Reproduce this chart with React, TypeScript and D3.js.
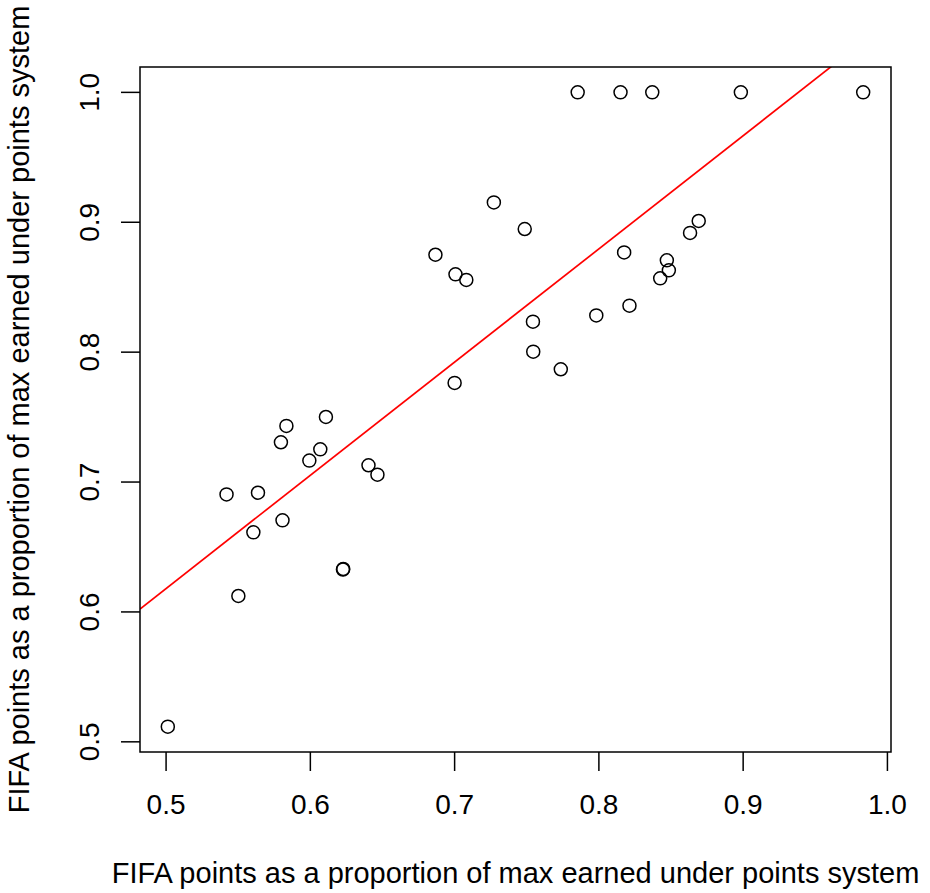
import React from "react";
import * as d3 from "d3";

const xValues = [
  0.5012, 0.5501, 0.5419, 0.5605, 0.5637, 0.5796, 0.5834, 0.5807, 0.5993, 0.6069,
  0.6108, 0.6226, 0.6228, 0.6403, 0.6465, 0.6867, 0.7006, 0.7081, 0.7272, 0.7486,
  0.7543, 0.7545, 0.7000, 0.7736, 0.7982, 0.8175, 0.8212, 0.8425, 0.8471, 0.8485,
  0.8632, 0.8692, 0.7853, 0.8150, 0.8370, 0.8984, 0.9832,
];
const yValues = [
  0.5117, 0.6123, 0.6905, 0.6613, 0.6918, 0.7306, 0.7432, 0.6705, 0.7165, 0.7252,
  0.7501, 0.6326, 0.6331, 0.7129, 0.7057, 0.8750, 0.8599, 0.8556, 0.9153, 0.8948,
  0.8235, 0.8004, 0.7763, 0.7868, 0.8283, 0.8768, 0.8358, 0.8568, 0.8707, 0.8630,
  0.8918, 0.9010, 1.0, 1.0, 1.0, 1.0, 1.0,
];
const fitCoefficients = [0.1823, 0.8715]; // intercept, slope
const xTicks = [0.5, 0.6, 0.7, 0.8, 0.9, 1.0];
const yTicks = [0.5, 0.6, 0.7, 0.8, 0.9, 1.0];
const axisTitle = "FIFA points as a proportion of max earned under points system";

const W = 930;
const H = 893;
const left = 140, right = 891, top = 67, bottom = 752;
const FONT = "'Liberation Sans', Arial, Helvetica, sans-serif";

export default function App() {
  const xMin = d3.min(xValues)!, xMax = d3.max(xValues)!;
  const yMin = d3.min(yValues)!, yMax = d3.max(yValues)!;
  const xPad = (xMax - xMin) * 0.04;
  const yPad = (yMax - yMin) * 0.04;
  const x = d3.scaleLinear().domain([xMin - xPad, xMax + xPad]).range([left, right]);
  const y = d3.scaleLinear().domain([yMin - yPad, yMax + yPad]).range([bottom, top]);
  const [b0, b1] = fitCoefficients;
  const [dx0, dx1] = x.domain();
  const fitLine = d3.line<number>().x((v) => x(v)).y((v) => y(b0 + b1 * v));

  return (
    <svg width={W} height={H} style={{ position: "absolute", left: 0, top: 0, background: "#fff" }} fontFamily={FONT}>
      <rect x={0} y={0} width={W} height={H} fill="#fff" />
      <defs>
        <clipPath id="plotClip">
          <rect x={left} y={top} width={right - left} height={bottom - top} />
        </clipPath>
      </defs>
      {xValues.map((xv, i) => (
        <circle key={i} cx={x(xv)} cy={y(yValues[i])} r={6.5} fill="none" stroke="#000" strokeWidth={1.5} />
      ))}
      <path d={fitLine([dx0, dx1]) || ""} stroke="#ff0000" strokeWidth={1.7} fill="none" clipPath="url(#plotClip)" />
      <rect x={left} y={top} width={right - left} height={bottom - top} fill="none" stroke="#000" strokeWidth={1.5} />
      {xTicks.map((t) => (
        <g key={"x" + t}>
          <line x1={x(t)} x2={x(t)} y1={bottom} y2={bottom + 19} stroke="#000" strokeWidth={1.5} />
          <text x={x(t)} y={814} textAnchor="middle" fontSize={28} fill="#000">{t.toFixed(1)}</text>
        </g>
      ))}
      {yTicks.map((t) => (
        <g key={"y" + t}>
          <line x1={left - 19} x2={left} y1={y(t)} y2={y(t)} stroke="#000" strokeWidth={1.5} />
          <text transform={`translate(99,${y(t)}) rotate(-90)`} textAnchor="middle" fontSize={28} fill="#000">{t.toFixed(1)}</text>
        </g>
      ))}
      <text x={(left + right) / 2} y={883} textAnchor="middle" fontSize={29} fill="#000">{axisTitle}</text>
      <text transform={`translate(29,${(top + bottom) / 2}) rotate(-90)`} textAnchor="middle" fontSize={29} fill="#000">{axisTitle}</text>
    </svg>
  );
}
